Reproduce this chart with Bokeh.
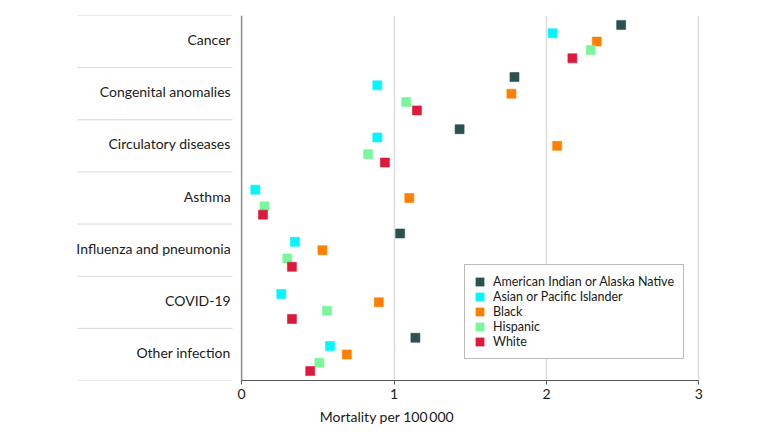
from bokeh.plotting import figure
from bokeh.models import Range1d, FixedTicker, Span, Legend, LegendItem, ColumnDataSource
from bokeh.core.properties import value
from bokeh.embed import file_html
from bokeh.resources import INLINE

categories = ["Cancer", "Congenital anomalies", "Circulatory diseases", "Asthma",
              "Influenza and pneumonia", "COVID-19", "Other infection"]
series = ["American Indian or Alaska Native", "Asian or Pacific Islander", "Black", "Hispanic", "White"]
nan = float("nan")
aian = [2.49, 1.79, 1.43, nan, 1.04, nan, 1.14]
api = [2.04, 0.89, 0.89, 0.09, 0.35, 0.26, 0.58]
black = [2.33, 1.77, 2.07, 1.10, 0.53, 0.90, 0.69]
hispanic = [2.29, 1.08, 0.83, 0.15, 0.30, 0.56, 0.51]
white = [2.17, 1.15, 0.94, 0.14, 0.33, 0.33, 0.45]
x_ticks = [0, 1, 2, 3]
x_label = "Mortality per 100\u2009000"

values = [aian, api, black, hispanic, white]
colors = ["#2a5250", "#00f7ff", "#ff8000", "#78f79b", "#dc1a3c"]
offsets = [0.32, 0.16, 0.0, -0.16, -0.32]

FONT = "Lato"
TXT = "#1a1a1a"
n = len(categories)
X0, X1 = -1.1226, 3.03
p = figure(frame_width=633, frame_height=365, x_range=Range1d(X0, X1), y_range=Range1d(0, n),
           output_backend="svg", toolbar_location=None, y_axis_location=None,
           min_border_left=70, min_border_top=15, min_border_right=30, min_border_bottom=8)
p.outline_line_color = None
p.background_fill_color = "white"
p.ygrid.visible = False
p.xgrid.ticker = FixedTicker(ticks=x_ticks[1:])
p.xgrid.grid_line_color = "#dcdcdc"
p.xgrid.grid_line_width = 1.5

ax = p.xaxis[0]
ax.ticker = FixedTicker(ticks=x_ticks)
ax.bounds = (0, 3)
ax.axis_line_color = "#555555"
ax.axis_line_width = 1.2
ax.major_tick_line_color = "#555555"
ax.major_tick_in = 0
ax.major_tick_out = 4
ax.minor_tick_line_color = None
ax.major_label_text_font = FONT
ax.major_label_text_font_size = "14px"
ax.major_label_text_color = TXT
ax.major_label_standoff = 4
ax.axis_label = x_label
ax.axis_label_text_font = FONT
ax.axis_label_text_font_size = "14px"
ax.axis_label_text_font_style = "normal"
ax.axis_label_text_color = TXT
ax.axis_label_standoff = 6

p.add_layout(Span(location=0, dimension="height", line_color="#8c8c8c", line_width=1.5))

bounds = list(range(n + 1))
p.segment(x0=[-1.077] * len(bounds), x1=[-0.059] * len(bounds), y0=bounds, y1=bounds,
          line_color="#d9d9cf", line_width=1)

centers = [n - i - 0.5 for i in range(n)]
p.text(x=[-0.072] * n, y=centers, text=categories, text_align="right", text_baseline="middle",
       y_offset=-2, text_font=value(FONT), text_font_size="14px", text_color=TXT)

items = []
for name, vals, c, off in zip(series, values, colors, offsets):
    src = ColumnDataSource(dict(x=vals, y=[cy + off for cy in centers]))
    p.scatter("x", "y", source=src, marker="square", size=9, fill_color=c, line_color=c,
              line_alpha=0.6)
    # legend key: an invisible (NaN) area glyph so the legend draws a filled square
    key = p.quad(left=[nan], right=[nan], top=[nan], bottom=[nan], fill_color=c, line_color=None)
    items.append(LegendItem(label=name, renderers=[key]))

legend = Legend(items=items, location=(394, 21), border_line_color="#777777", border_line_width=1,
                background_fill_color="white", background_fill_alpha=1, padding=9, spacing=0,
                glyph_height=11, glyph_width=11, label_height=15, label_standoff=8,
                label_text_font=FONT, label_text_font_size="12.5px", label_text_color=TXT,
                margin=0)
p.add_layout(legend)

open("out.html", "w").write(file_html(p, INLINE))
